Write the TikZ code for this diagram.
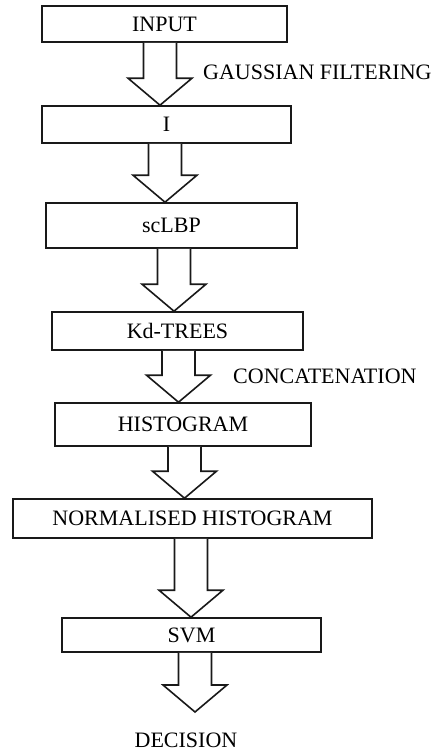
\documentclass[tikz,border=0pt]{standalone}
\usepackage{fontspec}
\setmainfont{Liberation Serif}
\usetikzlibrary{calc}
\newcommand{\stagefont}{\fontsize{22}{26}\selectfont}
\tikzset{
  stage/.style={
    draw=black!90, line width=1.6pt, fill=white,
    inner sep=0pt, align=center, font=\stagefont
  },
  blockarr/.style={draw=black!90, line width=1.6pt, line join=miter, fill=white},
  lbl/.style={inner sep=0pt, font=\stagefont},
  every picture/.append style={x=1pt, y=1pt}
}
% hollow block arrow: #1 upper box, #2 end point, #3 x offset from the box centre
\newcommand{\flowarrow}[3]{%
  \path (#1.south) ++(#3,0) coordinate (top);
  \path (top |- #2) coordinate (tip);
  \draw[blockarr] ($(top)+(-16.5,0)$) -- ($(tip)+(-16.5,27)$) -- ($(tip)+(-32,27)$)
    -- (tip) -- ($(tip)+(32,27)$) -- ($(tip)+(16.5,27)$) -- ($(top)+(16.5,0)$);
}

\begin{document}
\begin{tikzpicture}
  \useasboundingbox (0,0) rectangle (443,-752);

  \node[stage, minimum width=245pt, minimum height=36pt] (input) at (164.5,-24) {INPUT};
  \node[stage, minimum width=249pt, minimum height=37pt] (img) at (166.5,-124.5) {I};
  \node[stage, minimum width=251pt, minimum height=45pt] (sclbp) at (171.5,-225.5) {scLBP};
  \node[stage, minimum width=251pt, minimum height=38pt] (kd) at (177.5,-331) {Kd-TREES};
  \node[stage, minimum width=256pt, minimum height=43pt] (hist) at (183,-424.5) {HISTOGRAM};
  \node[stage, minimum width=359pt, minimum height=39pt] (nhist) at (192.5,-518.5) {NORMALISED HISTOGRAM};
  \node[stage, minimum width=259pt, minimum height=34pt] (svm) at (191.5,-635) {SVM};
  \node[lbl] (decision) at (186,-740) {DECISION};
  \coordinate (dtip) at (195,-712);

  \flowarrow{input}{img.north}{-4.5}
  \flowarrow{img}{sclbp.north}{-1.5}
  \flowarrow{sclbp}{kd.north}{2.5}
  \flowarrow{kd}{hist.north}{1}
  \flowarrow{hist}{nhist.north}{1.5}
  \flowarrow{nhist}{svm.north}{-1.5}
  \flowarrow{svm}{dtip}{3.5}

  \node[lbl, anchor=west] (gauss) at (203,-72) {GAUSSIAN FILTERING};
  \node[lbl, anchor=west] (concat) at (233,-376) {CONCATENATION};
\end{tikzpicture}
\end{document}
